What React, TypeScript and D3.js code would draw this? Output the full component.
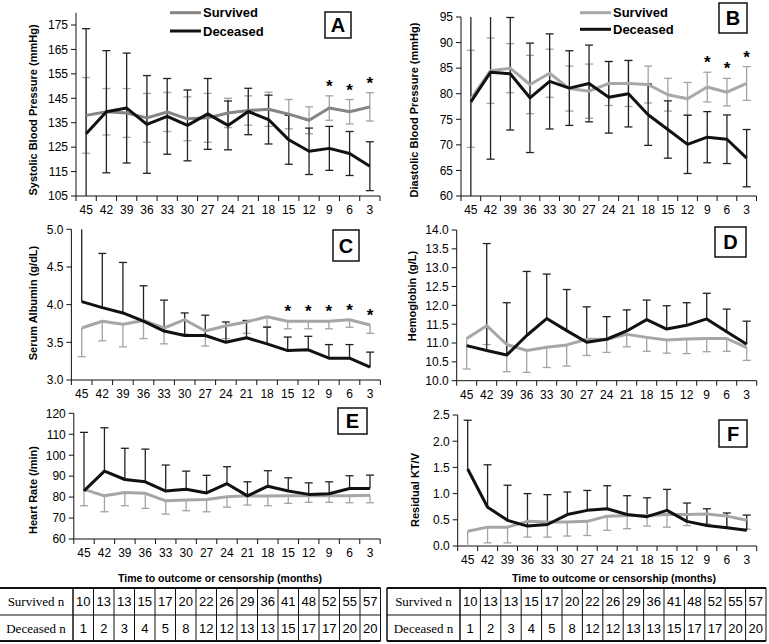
import React from "react";
import * as d3 from "d3";

// time to outcome (months), shared by all panels
const months = [45, 42, 39, 36, 33, 30, 27, 24, 21, 18, 15, 12, 9, 6, 3];
const survivedN = [10, 13, 13, 15, 17, 20, 22, 26, 29, 36, 41, 48, 52, 55, 57];
const deceasedN = [1, 2, 3, 4, 5, 8, 12, 12, 13, 13, 15, 17, 17, 20, 20];

// A: systolic BP
const sbpSurvived = [138, 139.5, 139, 137, 139.4, 136.6, 137, 139, 140, 140.5, 138.5, 136, 141, 139.5, 141.5];
const sbpSurvivedSd = [15.5, 9.5, 10, 10, 8, 9, 10, 6, 6, 7, 6, 5.5, 5, 5, 5.8];
const sbpDeceased = [130.5, 139.5, 141, 134.3, 137.6, 133.9, 138.6, 133.9, 139.6, 136.3, 128, 123.3, 124.5, 122.4, 117.2];
const sbpDeceasedSd = [43, 25, 22.5, 20, 15.5, 14.5, 14.5, 10, 9.5, 10, 10, 9.5, 9, 9, 10];

// B: diastolic BP
const dbpSurvived = [79, 84.5, 85, 81.8, 84, 81, 80.5, 82, 82, 81.8, 79.8, 79, 81.3, 80.3, 82];
const dbpSurvivedSd = [9.5, 6.4, 4.8, 5.7, 4.7, 4.4, 5.3, 4.3, 4.5, 3.6, 3.2, 3.2, 2.9, 2.7, 3.3];
const dbpDeceased = [78.4, 84.2, 83.9, 79.2, 82.4, 81.1, 82, 79.3, 80, 75.9, 73, 70.1, 71.5, 71.1, 67.4];
const dbpDeceasedSd = [20, 17, 11, 10.7, 9.3, 7.3, 7.5, 7, 6.5, 6, 5.6, 5.7, 5, 4.75, 5.6];

// C: serum albumin
const albSurvived = [3.69, 3.78, 3.74, 3.79, 3.69, 3.8, 3.65, 3.72, 3.77, 3.84, 3.78, 3.78, 3.78, 3.8, 3.73];
const albSurvivedSd = [0.38, 0.26, 0.3, 0.24, 0.21, 0.19, 0.2, 0.17, 0.15, 0.13, 0.1, 0.1, 0.1, 0.1, 0.11];
const albDeceased = [4.04, 3.96, 3.89, 3.78, 3.65, 3.59, 3.59, 3.5, 3.56, 3.48, 3.39, 3.4, 3.29, 3.29, 3.17];
const albDeceasedSd = [1.0, 0.72, 0.67, 0.47, 0.41, 0.3, 0.27, 0.27, 0.23, 0.22, 0.18, 0.18, 0.18, 0.18, 0.2];

// D: hemoglobin
const hbSurvived = [11.12, 11.46, 10.96, 10.8, 10.89, 10.95, 11.1, 11.1, 11.23, 11.15, 11.08, 11.11, 11.12, 11.12, 10.88];
const hbSurvivedSd = [0.81, 0.5, 0.72, 0.58, 0.54, 0.56, 0.43, 0.35, 0.33, 0.37, 0.35, 0.39, 0.35, 0.34, 0.34];
const hbDeceased = [10.93, 10.8, 10.68, 11.2, 11.65, 11.33, 11.02, 11.1, 11.32, 11.62, 11.37, 11.47, 11.64, 11.3, 10.97];
const hbDeceasedSd = [0, 2.84, 1.39, 1.7, 1.18, 1.09, 0.94, 0.6, 0.56, 0.52, 0.62, 0.6, 0.68, 0.6, 0.61];

// E: heart rate
const hrSurvived = [83.7, 80.6, 82.2, 81.8, 78.2, 78.6, 78.9, 80.2, 80.6, 80.5, 80.6, 80.6, 80.6, 80.6, 80.9];
const hrSurvivedSd = [7.8, 7.6, 6.3, 7.2, 6.3, 5.1, 5.9, 5, 4.4, 4.6, 3.6, 3.1, 3.1, 3.3, 3.6];
const hrDeceased = [83, 92.4, 88.4, 87.3, 82.9, 83.7, 82, 86.4, 80.6, 85.2, 82.9, 81.3, 81.6, 84.1, 84.1];
const hrDeceasedSd = [27.9, 20.7, 14.9, 15.6, 12.4, 8.7, 8.4, 8.1, 6.7, 7.4, 6.3, 5.5, 5.7, 6.1, 6.4];

// F: residual KT/V
const ktvSurvived = [0.28, 0.36, 0.36, 0.47, 0.46, 0.46, 0.47, 0.57, 0.58, 0.58, 0.6, 0.6, 0.61, 0.57, 0.49];
const ktvSurvivedSd = [0.3, 0.3, 0.3, 0.3, 0.29, 0.27, 0.27, 0.27, 0.25, 0.2, 0.24, 0.21, 0.19, 0.21, 0.17];
const ktvDeceased = [1.47, 0.74, 0.49, 0.38, 0.41, 0.6, 0.68, 0.71, 0.6, 0.56, 0.68, 0.47, 0.39, 0.35, 0.3];
const ktvDeceasedSd = [0.93, 0.81, 0.67, 0.62, 0.57, 0.43, 0.38, 0.44, 0.36, 0.36, 0.4, 0.35, 0.32, 0.28, 0.29];

const SANS = "'Liberation Sans', Arial, sans-serif";
const SERIF = "'Liberation Serif', 'Times New Roman', serif";
const BLACK = "#111";
const BAR_BLACK = "#222";
const BAR_GRAY = "#a3a3a3";

const panels = [
  { id: "A", title: "Systolic Blood Pressure (mmHg)", titleX: 33, titleY: 110,
    x0: 76, x1: 380, domain: [105, 180], range: [196, 12.8], ticks: d3.range(105, 176, 10), fmt: "d",
    surv: sbpSurvived, survSd: sbpSurvivedSd, dec: sbpDeceased, decSd: sbpDeceasedSd, both: true,
    grayLine: "#858585", stars: [9, 6, 3], box: [325, 12, 26, 26], legend: [170, 12.7, 31] },
  { id: "B", title: "Diastolic Blood Pressure (mmHg)", titleX: 414, titleY: 110,
    x0: 461, x1: 756.5, domain: [60, 95], range: [196, 17], ticks: d3.range(60, 96, 5), fmt: "d",
    surv: dbpSurvived, survSd: dbpSurvivedSd, dec: dbpDeceased, decSd: dbpDeceasedSd, both: true,
    grayLine: "#a8a8a8", stars: [9, 6, 3], box: [719, 3, 28, 30], legend: [580, 12.7, 29.3] },
  { id: "C", title: "Serum Albumin (g/dL)", titleX: 33, titleY: 303,
    x0: 71.4, x1: 380.4, domain: [3, 5], range: [380, 229.3], ticks: d3.range(3, 5.01, 0.5), fmt: ".1f",
    surv: albSurvived, survSd: albSurvivedSd, dec: albDeceased, decSd: albDeceasedSd, both: false,
    grayLine: "#a6a6a6", stars: [15, 12, 9, 6, 3], box: [333, 230, 26, 31] },
  { id: "D", title: "Hemoglobin (g/L)", titleX: 412, titleY: 296,
    x0: 456.7, x1: 756.7, domain: [10, 14], range: [380.7, 230], ticks: d3.range(10, 14.01, 0.5), fmt: ".1f",
    surv: hbSurvived, survSd: hbSurvivedSd, dec: hbDeceased, decSd: hbDeceasedSd, both: false,
    grayLine: "#a6a6a6", stars: [], box: [715, 227, 31, 30] },
  { id: "E", title: "Heart Rate (/min)", titleX: 33, titleY: 490,
    x0: 73.8, x1: 380.2, domain: [60, 120], range: [539, 413.3], ticks: d3.range(60, 121, 10), fmt: "d",
    surv: hrSurvived, survSd: hrSurvivedSd, dec: hrDeceased, decSd: hrDeceasedSd, both: false,
    grayLine: "#a6a6a6", stars: [], box: [338, 408, 29, 26] },
  { id: "F", title: "Residual KT/V", titleX: 415, titleY: 490,
    x0: 457.7, x1: 756.7, domain: [0, 2.5], range: [546, 415], ticks: d3.range(0, 2.51, 0.5), fmt: ".1f",
    surv: ktvSurvived, survSd: ktvSurvivedSd, dec: ktvDeceased, decSd: ktvDeceasedSd, both: false,
    grayLine: "#a6a6a6", stars: [], box: [719, 420, 28, 27] },
];

const ErrorBars = ({ x, y, mean, sd, up, down, color }) => {
  const [lo, hi] = y.domain();
  const cx = (i) => x(months[i]) + x.bandwidth() / 2;
  const parts = [];
  mean.forEach((m, i) => {
    if (!sd[i]) return;
    const xc = cx(i);
    if (up) {
      const t = Math.min(m + sd[i], hi);
      parts.push(<line key={"u" + i} x1={xc} x2={xc} y1={y(m)} y2={y(t)} />);
      if (m + sd[i] <= hi) parts.push(<line key={"uc" + i} x1={xc - 4} x2={xc + 4} y1={y(t)} y2={y(t)} />);
    }
    if (down) {
      const b = Math.max(m - sd[i], lo);
      parts.push(<line key={"d" + i} x1={xc} x2={xc} y1={y(m)} y2={y(b)} />);
      if (m - sd[i] >= lo) parts.push(<line key={"dc" + i} x1={xc - 4} x2={xc + 4} y1={y(b)} y2={y(b)} />);
    }
  });
  return <g stroke={color} strokeWidth={1.3}>{parts}</g>;
};

const Panel = ({ p }) => {
  const x = d3.scaleBand().domain(months).range([p.x0, p.x1]).padding(0);
  const y = d3.scaleLinear().domain(p.domain).range(p.range);
  const cx = (m) => x(m) + x.bandwidth() / 2;
  const line = d3.line().x((d, i) => cx(months[i])).y((d) => y(d));
  const fmt = d3.format(p.fmt);
  const base = y(p.domain[0]);
  const top = y(p.domain[1]);
  const bounds = [...months.map((m) => x(m)), p.x1];

  return (
    <g>
      {/* y axis */}
      <line x1={p.x0} x2={p.x0} y1={top} y2={base} stroke={BLACK} strokeWidth={1} />
      {p.ticks.map((t) => (
        <g key={t}>
          <line x1={p.x0 - 5} x2={p.x0} y1={y(t)} y2={y(t)} stroke={BLACK} />
          <text x={p.x0 - 8} y={y(t)} dy="0.36em" textAnchor="end" fontSize={12} fontFamily={SANS}>{fmt(t)}</text>
        </g>
      ))}
      {/* x axis */}
      <line x1={p.x0} x2={p.x1} y1={base} y2={base} stroke={BLACK} />
      {bounds.map((b, i) => (
        <line key={i} x1={b} x2={b} y1={base} y2={base + 5} stroke={BLACK} />
      ))}
      {months.map((m) => (
        <text key={m} x={cx(m)} y={base + 18} textAnchor="middle" fontSize={12} fontFamily={SANS}>{m}</text>
      ))}
      <text transform={`translate(${p.titleX},${p.titleY}) rotate(-90)`} textAnchor="middle" dy="0.35em"
        fontSize={11} fontWeight="bold" fontFamily={SANS}>{p.title}</text>

      {/* error bars */}
      <ErrorBars x={x} y={y} mean={p.surv} sd={p.survSd} up={p.both} down={true} color={BAR_GRAY} />
      <ErrorBars x={x} y={y} mean={p.dec} sd={p.decSd} up={true} down={p.both} color={BAR_BLACK} />

      {/* mean lines */}
      <path d={line(p.surv)} fill="none" stroke={p.grayLine} strokeWidth={3} strokeLinejoin="round" />
      <path d={line(p.dec)} fill="none" stroke={BLACK} strokeWidth={3} strokeLinejoin="round" />

      {/* significance marks above the survived group */}
      {p.stars.map((m) => {
        const i = months.indexOf(m);
        const yy = y(p.surv[i] + (p.both ? p.survSd[i] : 0)) - 14;
        return (
          <text key={m} x={cx(m)} y={yy + 10} textAnchor="middle" fontSize={17} fontWeight="bold" fontFamily={SANS}>*</text>
        );
      })}

      {/* panel letter */}
      <rect x={p.box[0]} y={p.box[1]} width={p.box[2]} height={p.box[3]} fill="white" stroke={BLACK} strokeWidth={1.5} />
      <text x={p.box[0] + p.box[2] / 2} y={p.box[1] + p.box[3] / 2} dy="0.36em" textAnchor="middle"
        fontSize={20} fontWeight="bold" fontFamily={SANS}>{p.id}</text>

      {p.legend && (
        <g fontSize={13} fontWeight="bold" fontFamily={SANS}>
          <line x1={p.legend[0]} x2={p.legend[0] + 31} y1={p.legend[1]} y2={p.legend[1]} stroke={p.grayLine} strokeWidth={3} />
          <text x={p.legend[0] + 33} y={p.legend[1]} dy="0.36em">Survived</text>
          <line x1={p.legend[0]} x2={p.legend[0] + 31} y1={p.legend[2]} y2={p.legend[2]} stroke={BLACK} strokeWidth={3} />
          <text x={p.legend[0] + 33} y={p.legend[2]} dy="0.36em">Deceased</text>
        </g>
      )}
    </g>
  );
};

const CountTable = ({ left, firstW, colW, titleX, border }) => {
  const top = 588, mid = 615, bottom = 641;
  const xCol = d3.scaleBand().domain(months).range([left + firstW, left + firstW + colW * months.length]);
  const right = left + firstW + colW * months.length;
  return (
    <g>
      <text x={titleX} y={582} textAnchor="middle" fontSize={10.5} fontWeight="bold" fontFamily={SANS}>
        Time to outcome or censorship (months)
      </text>
      <line x1={left} x2={right} y1={top} y2={top} stroke={BLACK} strokeWidth={2} />
      <line x1={left} x2={right} y1={mid} y2={mid} stroke={BLACK} strokeWidth={1} />
      <line x1={left} x2={right} y1={bottom} y2={bottom} stroke={BLACK} strokeWidth={2} />
      {border && <line x1={left} x2={left} y1={top} y2={bottom} stroke={BLACK} strokeWidth={1.5} />}
      <line x1={left + firstW} x2={left + firstW} y1={top} y2={bottom} stroke={BLACK} strokeWidth={1.5} />
      {months.map((m) => (
        <line key={m} x1={xCol(m) + colW} x2={xCol(m) + colW} y1={top} y2={bottom} stroke={BLACK} strokeWidth={1} />
      ))}
      <text x={left + firstW / 2} y={606} textAnchor="middle" fontSize={13} fontFamily={SERIF}>Survived n</text>
      <text x={left + firstW / 2} y={632.5} textAnchor="middle" fontSize={13} fontFamily={SERIF}>Deceased n</text>
      {months.map((m, i) => (
        <g key={m} fontSize={13} fontFamily={SANS} textAnchor="middle">
          <text x={xCol(m) + colW / 2} y={606}>{survivedN[i]}</text>
          <text x={xCol(m) + colW / 2} y={632.5}>{deceasedN[i]}</text>
        </g>
      ))}
    </g>
  );
};

export default function App() {
  return (
    <svg width={769} height={644} style={{ position: "absolute", left: 0, top: 0, background: "white" }}>
      <rect width={769} height={644} fill="white" />
      {panels.map((p) => <Panel key={p.id} p={p} />)}
      <CountTable left={-1} firstW={74} colW={20.5} titleX={220} border={false} />
      <CountTable left={387} firstW={73} colW={20.4} titleX={614} border={true} />
    </svg>
  );
}
